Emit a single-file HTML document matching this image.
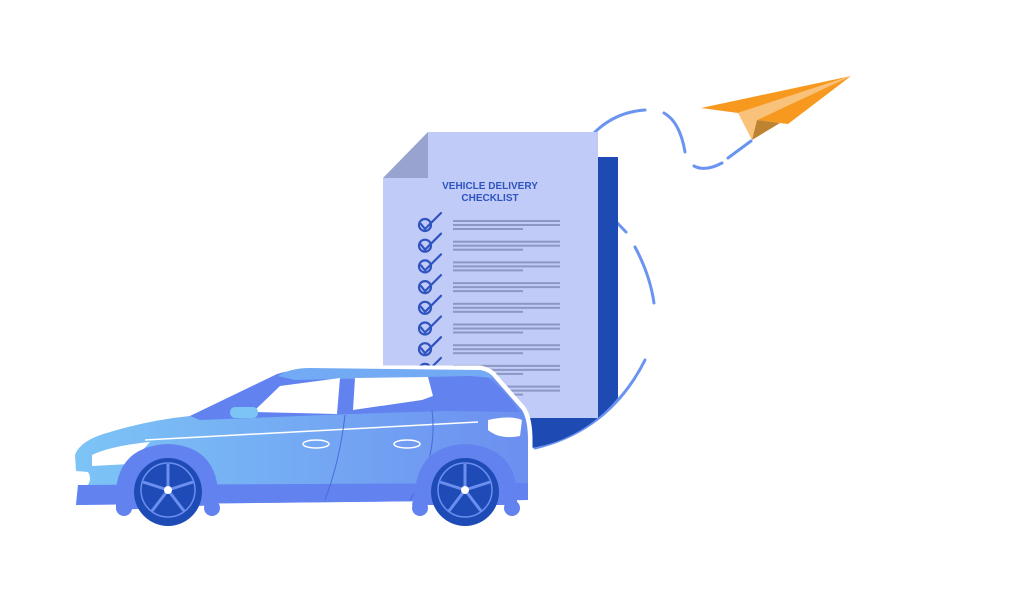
<!DOCTYPE html>
<html><head><style>html,body{margin:0;padding:0;background:#fff;}svg{display:block}</style></head>
<body>
<svg width="1024" height="615" viewBox="0 0 1024 615" xmlns="http://www.w3.org/2000/svg">
<defs>
<linearGradient id="bg" x1="0" x2="1" y1="0" y2="0"><stop offset="0" stop-color="#7cc4f6"/><stop offset="1" stop-color="#6c8ff0"/></linearGradient>
<clipPath id="cc"><circle cx="508" cy="308" r="142"/></clipPath>
</defs>
<g fill="none" stroke="#6b93f0" stroke-width="3" stroke-linecap="round">
<path d="M594 133 Q615 112 645 110"/>
<path d="M664 113 Q680 122 685 152"/>
<path d="M694 166 Q705 172 722 163"/>
<path d="M728 158 L751 141"/>
<path d="M598 203 L626 232"/>
<path d="M635 247 Q650 275 654 303"/>
<path d="M645 360 Q610 430 535 448"/>
</g>
<polygon points="701,108 851,76 738,113" fill="#f7991f"/>
<polygon points="738,113 851,76 757,120 752,140" fill="#f9c27a"/>
<polygon points="757,120 851,76 788,124 780,123" fill="#f7991f"/>
<polygon points="757,120 780,123 752,140" fill="#bd8331"/>
<g clip-path="url(#cc)"><rect x="530" y="157" width="88" height="300" fill="#1e4bb3"/></g>
<rect x="598" y="157" width="20" height="200" fill="#1e4bb3"/>
<polygon points="428,132 598,132 598,418 383,418 383,178" fill="#c0cbf7"/>
<polygon points="428,132 428,178 383,178" fill="#98a3cf"/>
<text x="490" y="189" text-anchor="middle" font-family="Liberation Sans,sans-serif" font-weight="bold" font-size="10" fill="#2f54c0">VEHICLE DELIVERY</text>
<text x="490" y="201" text-anchor="middle" font-family="Liberation Sans,sans-serif" font-weight="bold" font-size="10" fill="#2f54c0">CHECKLIST</text>
<g fill="#8c97c4">
<g id="r"><rect x="453" y="220" width="107" height="2"/><rect x="453" y="224" width="107" height="2"/><rect x="453" y="228" width="70" height="2"/></g>
<use href="#r" y="20.7"/><use href="#r" y="41.4"/><use href="#r" y="62.1"/><use href="#r" y="82.8"/><use href="#r" y="103.5"/><use href="#r" y="124.2"/><use href="#r" y="144.9"/><use href="#r" y="165.6"/>
</g>
<g fill="none" stroke="#2f54c0" stroke-width="2.2" stroke-linecap="round">
<g id="c"><circle cx="425" cy="225" r="6"/><path d="M421 224 L425 229 L441 213"/></g>
<use href="#c" y="20.7"/><use href="#c" y="41.4"/><use href="#c" y="62.1"/><use href="#c" y="82.8"/><use href="#c" y="103.5"/><use href="#c" y="124.2"/><use href="#c" y="144.9"/>
</g>
<path d="M76 505 L78 485 L88 485 Q92 478 88 472 L76 471 L75 455 Q80 440 110 432 Q150 420 190 416 L270 378 Q285 370 310 370 L480 370 Q490 372 494 378 L522 410 Q528 420 528 440 L528 500 L76 505 Z" fill="url(#bg)" stroke="#fff" stroke-width="9" stroke-linejoin="round"/>
<path d="M76 505 L78 485 L88 485 Q92 478 88 472 L76 471 L75 455 Q80 440 110 432 Q150 420 190 416 L270 378 Q285 370 310 370 L480 370 Q490 372 494 378 L522 410 Q528 420 528 440 L528 500 L76 505 Z" fill="url(#bg)"/>
<path d="M76 505 L78 485 L528 483 L528 500 Z" fill="#6282f0"/>
<path d="M190 416 L275 375 Q285 370 310 370 L478 372 Q495 378 520 412 L445 411 L350 414 L200 420 Z" fill="#6282f0"/>
<path d="M278 376 Q290 368 310 368 L480 370 Q490 372 494 378 L470 376 L295 380 Z" fill="#72aaf3"/>
<polygon points="253,412 280,386 340,378 337,414" fill="#fff"/>
<polygon points="355,378 428,377 433,396 422,400 353,410" fill="#fff"/>
<rect x="230" y="407" width="28" height="11" rx="5" fill="#7cc4f6"/>
<path d="M488 420 Q510 415 522 420 L520 436 Q500 440 488 430 Z" fill="#fff"/>
<path d="M92 455 Q110 446 150 442 L130 464 L92 466 Z" fill="#fff"/>
<path d="M145 440 L478 422" stroke="#fff" stroke-width="1.5"/>
<path d="M345 415 Q340 460 325 500 M432 410 Q438 460 410 500" stroke="#4a6ad8" stroke-width="1" fill="none"/>
<ellipse cx="316" cy="444" rx="13" ry="4" fill="none" stroke="#fff" stroke-width="1.5"/>
<ellipse cx="407" cy="444" rx="13" ry="4" fill="none" stroke="#fff" stroke-width="1.5"/>
<path d="M116 510 L116 490 Q120 446 168 444 Q214 446 218 490 L218 505 Z" fill="#6282f0"/>
<path d="M412 505 L415 490 Q420 446 465 444 Q512 446 517 490 L517 505 Z" fill="#6282f0"/>
<circle cx="124" cy="508" r="8" fill="#6282f0"/><circle cx="212" cy="508" r="8" fill="#6282f0"/>
<circle cx="420" cy="508" r="8" fill="#6282f0"/><circle cx="512" cy="508" r="8" fill="#6282f0"/>
<g id="w"><circle cx="168" cy="492" r="34" fill="#1e4bb5"/><circle cx="168" cy="490" r="27" fill="none" stroke="#6b8ff0" stroke-width="1.5"/>
<g stroke="#6b8ff0" stroke-width="3"><path d="M168 490 L168 464 M168 490 L193 482 M168 490 L184 511 M168 490 L152 511 M168 490 L143 482"/></g>
<circle cx="168" cy="490" r="4" fill="#fff"/></g>
<use href="#w" x="297"/>
</svg>
</body></html>
